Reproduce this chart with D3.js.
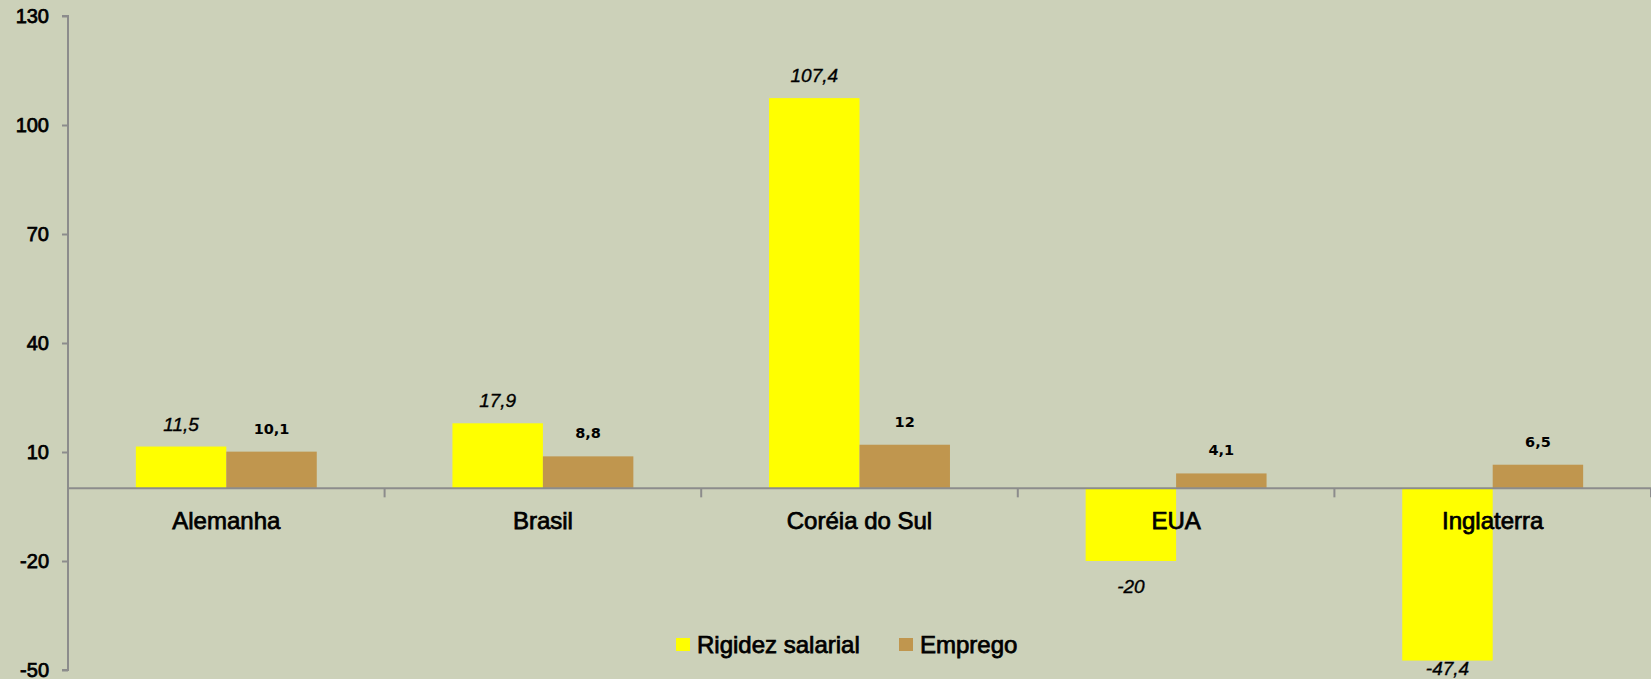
<!DOCTYPE html>
<html>
<head>
<meta charset="utf-8">
<script src="https://cdn.jsdelivr.net/npm/d3@7"></script>
<style>
  html, body { margin: 0; padding: 0; background: #ccd1b9; }
  svg { display: block; }
  .axis path, .axis line { stroke: #8c8c8c; stroke-width: 2; }
  .med { stroke: #000; stroke-width: 0.75; paint-order: stroke; }
</style>
</head>
<body>
<svg id="chart"></svg>
<script>
var countries = ['Alemanha', 'Brasil', 'Coréia do Sul', 'EUA', 'Inglaterra'];
var seriesNames = ['Rigidez salarial', 'Emprego'];
var rigidez = [11.5, 17.9, 107.4, -20, -47.4];
var emprego = [10.1, 8.8, 12, 4.1, 6.5];
var yTicks = [-50, -20, 10, 40, 70, 100, 130];

var colors = { 'Rigidez salarial': '#ffff00', 'Emprego': '#c0964e' };

var width = 1651, height = 679;
var margin = {top: 16, right: 0, bottom: 9, left: 68};

var svg = d3.select('#chart')
    .attr('width', width)
    .attr('height', height);

var xScale = d3.scaleBand()
    .domain(countries)
    .range([margin.left, width - margin.right])
    .paddingInner(0).paddingOuter(0);

var xSub = d3.scaleBand()
    .domain(seriesNames)
    .range([0, xScale.bandwidth()])
    .paddingInner(0).paddingOuter(0.75);

var yScale = d3.scaleLinear()
    .domain([-50, 130])
    .range([height - margin.bottom, margin.top]);

var rows = countries.map(function(c, i) {
  return {country: c, values: [
    {name: 'Rigidez salarial', v: rigidez[i]},
    {name: 'Emprego', v: emprego[i]}
  ]};
});

// bars
var groups = svg.append('g').selectAll('g')
  .data(rows).enter()
  .append('g')
    .attr('transform', function(d){ return 'translate(' + xScale(d.country) + ',0)'; });

groups.selectAll('rect')
  .data(function(d){ return d.values; }).enter()
  .append('rect')
    .attr('x', function(d){ return xSub(d.name); })
    .attr('y', function(d){ return yScale(Math.max(0, d.v)); })
    .attr('width', xSub.bandwidth())
    .attr('height', function(d){ return Math.abs(yScale(d.v) - yScale(0)); })
    .attr('fill', function(d){ return colors[d.name]; });

// y axis
var yAxis = d3.axisLeft(yScale)
    .tickValues(yTicks)
    .tickSize(6)
    .tickPadding(13)
    .tickFormat(function(d){ return String(d); });   // plain hyphen, not unicode minus

var yg = svg.append('g')
    .attr('class', 'axis')
    .attr('transform', 'translate(' + margin.left + ',0)')
    .call(yAxis);
yg.select('.domain').attr('d', 'M-6,' + yScale(130) + 'H0V' + yScale(-50) + 'H-6');
yg.selectAll('text')
    .attr('class', 'med')
    .style('font-family', '"Liberation Sans", Arial, sans-serif')
    .style('font-size', '20px')
    .attr('fill', '#000');

// x axis at zero
var xAxis = d3.axisBottom(xScale).tickSize(0).tickFormat('');
var xg = svg.append('g')
    .attr('class', 'axis')
    .attr('transform', 'translate(0,' + yScale(0) + ')')
    .call(xAxis);
xg.select('.domain').attr('d', 'M' + margin.left + ',0H' + width);
var bounds = countries.map(function(c){ return xScale(c) + xScale.bandwidth(); });
xg.selectAll('.sep')
  .data(bounds).enter()
  .append('line')
    .attr('class', 'sep')
    .attr('x1', function(d){ return d; })
    .attr('x2', function(d){ return d; })
    .attr('y1', 0).attr('y2', 9);

// category labels
svg.append('g').selectAll('text')
  .data(countries).enter()
  .append('text')
    .attr('class', 'med')
    .attr('x', function(d){ return xScale(d) + xScale.bandwidth() / 2; })
    .attr('y', yScale(0) + 41)
    .attr('text-anchor', 'middle')
    .style('font-family', '"Liberation Sans", Arial, sans-serif')
    .style('font-size', '24px')
    .text(function(d){ return d; });

// value labels
var fmt = function(v){ return String(v).replace('.', ','); };

groups.selectAll('text.val')
  .data(function(d){ return d.values; }).enter()
  .append('text')
    .attr('class', function(d){ return d.name === 'Emprego' ? 'val' : 'val med'; })
    .attr('x', function(d){ return xSub(d.name) + xSub.bandwidth() / 2; })
    .attr('y', function(d){
      if (d.v >= 0) return yScale(d.v) - (d.name === 'Emprego' ? 18 : 16);
      return Math.min(yScale(d.v) + 32, height - 4);
    })
    .attr('text-anchor', 'middle')
    .style('stroke-width', function(d){ return d.name === 'Emprego' ? null : '0.35'; })
    .style('font-family', function(d){
      return d.name === 'Emprego' ? '"DejaVu Sans", Verdana, sans-serif' : '"Liberation Sans", Arial, sans-serif';
    })
    .style('font-size', function(d){ return d.name === 'Emprego' ? '14.5px' : '19px'; })
    .style('font-weight', function(d){ return d.name === 'Emprego' ? 'bold' : 'normal'; })
    .style('font-style', function(d){ return d.name === 'Emprego' ? 'normal' : 'italic'; })
    .text(function(d){ return fmt(d.v); });

// legend
var legendPos = [676, 899];
var legend = svg.append('g').selectAll('g')
  .data(seriesNames).enter()
  .append('g')
    .attr('transform', function(d, i){ return 'translate(' + legendPos[i] + ',638)'; });
legend.append('rect')
    .attr('width', 14).attr('height', 13)
    .attr('fill', function(d){ return colors[d]; });
legend.append('text')
    .attr('class', 'med')
    .attr('x', 21).attr('y', 15)
    .style('font-family', '"Liberation Sans", Arial, sans-serif')
    .style('font-size', '24px')
    .text(function(d){ return d; });
</script>
</body>
</html>
